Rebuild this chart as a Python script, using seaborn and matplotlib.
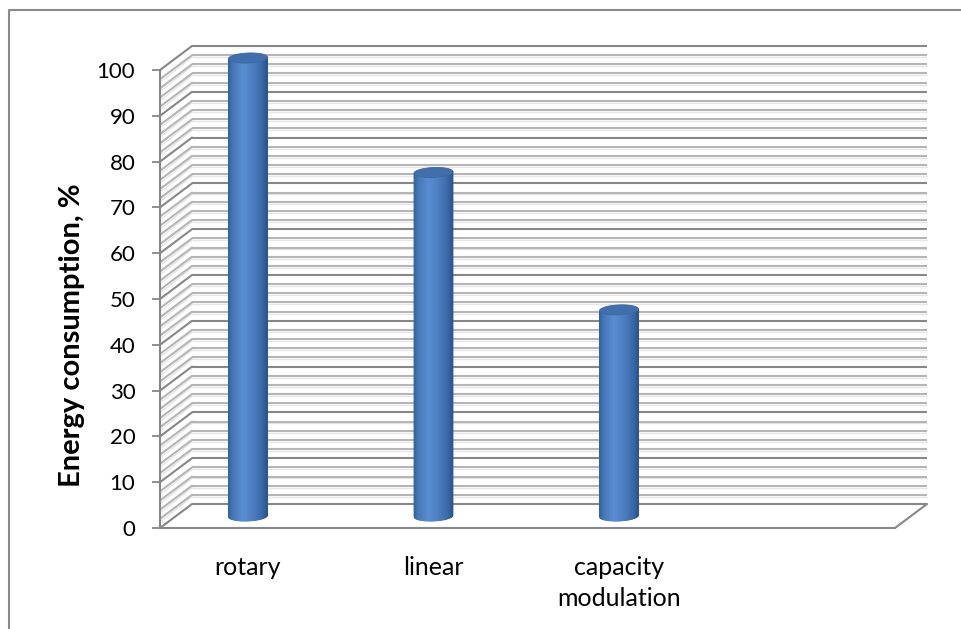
import numpy as np
import pandas as pd
import matplotlib
matplotlib.use("Agg")
import matplotlib.pyplot as plt
import seaborn as sns
from matplotlib.colors import LinearSegmentedColormap
from matplotlib.lines import Line2D

# ---- data -------------------------------------------------------------
categories = ["rotary", "linear", "capacity\nmodulation"]
energy = [100, 75, 45]
y_ticks = list(range(0, 101, 10))
y_label = "Energy consumption, %"

# ---- style ------------------------------------------------------------
sns.set_theme(style="white")
plt.rcParams["font.family"] = ["Lato", "DejaVu Sans"]

GRID_MAJOR = "#878787"
GRID_MINOR = "#b5b5b5"
GRID_GLOW = "#e6e6e6"
CAP_COLOR = "#416fab"
body_cmap = LinearSegmentedColormap.from_list(
    "cyl",
    [(0.00, "#33619c"), (0.12, "#4677b9"), (0.38, "#5a8ed0"),
     (0.62, "#4e80c2"), (0.88, "#3a69a8"), (1.00, "#2a5590")],
)

W, H = 961, 629
fig = plt.figure(figsize=(W / 100, H / 100), dpi=100)

# front plane of the 3-D box (pixels)
FL, FR, FT, FB = 160, 895, 70, 528
ax = fig.add_axes([FL / W, 1 - FB / H, (FR - FL) / W, (FB - FT) / H])

df = pd.DataFrame({"type": categories, "energy": energy})
sns.barplot(data=df, x="type", y="energy", ax=ax, width=0.21,
            color="#4F81BD", errorbar=None)

PX_PER_X = 185.5
PX_PER_Y = (FB - FT) / 100.0
x_left = -(232 - FL) / PX_PER_X
x_right = (FR - 232) / PX_PER_X
ax.set_xlim(x_left, x_right)
ax.set_ylim(0, 100)

# depth of the box, in data units
DX = 32 / PX_PER_X
DY = 24 / PX_PER_Y

# ---- walls and floor --------------------------------------------------
for v in range(0, 101, 2):
    major = v % 10 == 0
    col = GRID_MAJOR if major else GRID_MINOR
    if not major:
        ax.plot([x_left + DX, x_right + DX], [v + DY - 0.42] * 2,
                color=GRID_GLOW, lw=1.0, clip_on=False, zorder=1,
                solid_capstyle="butt")
        ax.plot([x_left + 0.01, x_left + DX], [v - 0.42, v + DY - 0.42],
                color=GRID_GLOW, lw=1.0, clip_on=False, zorder=1)
    ax.plot([x_left + DX, x_right + DX], [v + DY] * 2, color=col,
            lw=1.5, clip_on=False, zorder=1.2, solid_capstyle="butt")
    ax.plot([x_left, x_left + DX], [v, v + DY], color=col, lw=1.5,
            clip_on=False, zorder=1.2)

# right edge of the floor
ax.plot([x_right, x_right + DX], [0, DY], color=GRID_MAJOR, lw=1.5,
        clip_on=False, zorder=1.2)

# ---- cylinders built on the seaborn bars -------------------------------
b = 5 / PX_PER_Y          # half height of the end ellipses
tilt = 0.8 / PX_PER_Y     # slight perspective tilt of the ellipses
n_strips = 60
for patch in list(ax.patches):
    x0 = patch.get_x() + DX / 2
    w = patch.get_width()
    h = patch.get_height()
    patch.set_visible(False)
    a = w / 2
    xc = x0 + a
    ybot = DY / 2
    ytop = ybot + h

    edges = np.linspace(-1, 1, n_strips + 1)
    for k in range(n_strips):
        u0, u1 = edges[k], edges[k + 1]
        um = 0.5 * (u0 + u1)
        yb0 = ybot + tilt * u0 - b * np.sqrt(max(0.0, 1 - u0 ** 2))
        yb1 = ybot + tilt * u1 - b * np.sqrt(max(0.0, 1 - u1 ** 2))
        xs = [xc + a * u0, xc + a * u1, xc + a * u1, xc + a * u0]
        ys = [yb0, yb1, ytop + tilt * u1, ytop + tilt * u0]
        c = body_cmap((um + 1) / 2)
        ax.fill(xs, ys, color=c, lw=0.6, ec=c, clip_on=False, zorder=3)

    t = np.linspace(0, 2 * np.pi, 120)
    ax.fill(xc + a * np.cos(t), ytop + b * np.sin(t) + tilt * np.cos(t),
            color=CAP_COLOR, lw=0.6, ec="#3b68a2", clip_on=False, zorder=4)

# ---- axes decoration ----------------------------------------------------
for side in ("top", "right"):
    ax.spines[side].set_visible(False)
for side in ("left", "bottom"):
    ax.spines[side].set_color(GRID_MAJOR)
    ax.spines[side].set_linewidth(1.5)
    ax.spines[side].set_zorder(1.5)

ax.set_yticks(y_ticks)
ax.set_yticklabels([str(v) for v in y_ticks])
ax.tick_params(axis="y", direction="out", length=5.8, width=1.3,
               color=GRID_MAJOR, pad=12, labelsize=16, labelcolor="black",
               left=True)

ax.set_xticks([i + DX / 2 for i in range(len(categories))])
ax.set_xticklabels(categories, fontsize=18, linespacing=1.45)
ax.tick_params(axis="x", length=0, pad=20, labelcolor="black")
ax.set_xlabel("")
ax.set_ylabel("")

fig.text(72 / W, 1 - 335 / H, y_label, rotation=90, ha="center",
         va="center", fontsize=21, fontweight="bold", color="black")

# chart border (top and left edges)
fig.add_artist(Line2D([8.5 / W, 8.5 / W, 1.0], [0.0, 1 - 9.5 / H, 1 - 9.5 / H],
                      transform=fig.transFigure, color="#8a8a8a", lw=1.5))

fig.savefig("out.png", dpi=100)
